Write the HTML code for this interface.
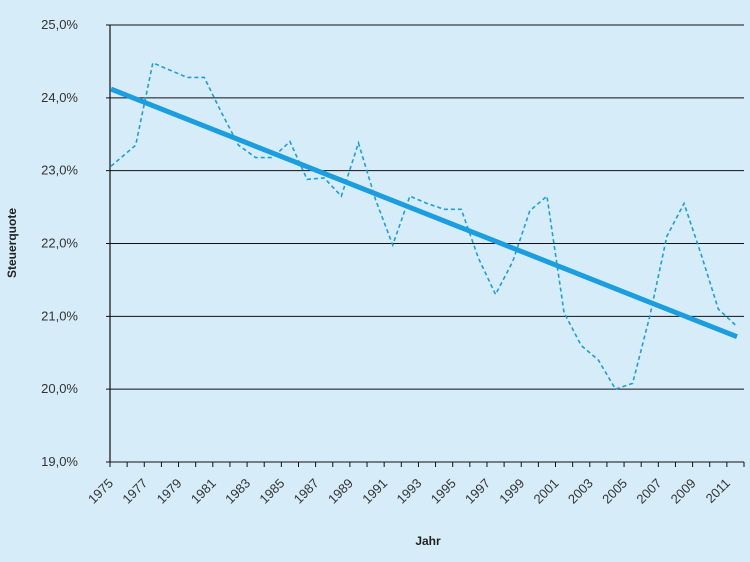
<!DOCTYPE html>
<html><head><meta charset="utf-8"><style>
body{margin:0;background:#d6edf9;}
svg{display:block;font-family:"Liberation Sans",sans-serif;}
</style></head><body>
<svg width="750" height="562">
<rect width="750" height="562" fill="#d6edf9"/>
<g id="grid"></g><g id="axes"></g><g id="series"></g>
<text x="16" y="243" transform="rotate(-90 16 243)" text-anchor="middle" font-size="12" font-weight="bold" fill="#222">Steuerquote</text>
<text x="428" y="545" text-anchor="middle" font-size="12" font-weight="bold" fill="#222">Jahr</text>
</svg>
<script>
const years=[1975,1976,1977,1978,1979,1980,1981,1982,1983,1984,1985,1986,1987,1988,1989,1990,1991,1992,1993,1994,1995,1996,1997,1998,1999,2000,2001,2002,2003,2004,2005,2006,2007,2008,2009,2010,2011];
const quote=[23.15,23.35,24.48,24.38,24.28,24.28,23.8,23.35,23.18,23.18,23.4,22.88,22.9,22.65,23.38,22.6,21.98,22.65,22.55,22.47,22.47,21.8,21.3,21.75,22.45,22.65,21.05,20.6,20.4,20.0,20.08,21.0,22.1,22.55,21.85,21.1,20.88];
const trend=[24.12,20.72];
const yTicks=[19,20,21,22,23,24,25];
const NS="http://www.w3.org/2000/svg";
const X0=110,X1=744,Y0=462,Y1=25;
const step=(X1-X0)/years.length;
const y=v=>Y0-(v-19)/6*(Y0-Y1);
const xp=i=>X0+step*(i+0.5);
function mk(t,a,p){const e=document.createElementNS(NS,t);for(const k in a)e.setAttribute(k,a[k]);p.appendChild(e);return e;}
const grid=document.getElementById('grid'),axes=document.getElementById('axes'),ser=document.getElementById('series');
yTicks.forEach(v=>{
 const l=mk('line',{x1:X0-4,x2:X1,y1:y(v),y2:y(v),stroke:'#111','stroke-width':1},grid);
 
 
 const t=mk('text',{x:78,y:y(v)+4,'text-anchor':'end','font-size':13,fill:'#333'},axes);
 t.textContent=v.toFixed(1).replace('.',',')+'%';
 
 
});
const ax=mk('line',{x1:X0,x2:X0,y1:Y1,y2:Y0,stroke:'#111','stroke-width':1.2},axes);


for(let i=0;i<=years.length;i++){
 const tk=mk('line',{x1:X0+i*step,x2:X0+i*step,y1:Y0,y2:Y0+5,stroke:'#111'},axes);
 
 
}
years.forEach((yr,i)=>{
 if(i%2)return;
 const tx=X0+i*step+4,ty=Y0+22;
 const t=mk('text',{x:tx,y:ty,'text-anchor':'end','font-size':13,fill:'#333',transform:`rotate(-45 ${tx} ${ty})`},axes);
 t.textContent=yr;
 
 
});
const s0=(quote[1]-quote[0])/step;
const startY=y(quote[0])+(xp(0)-X0-1)*(y(quote[1])-y(quote[0]))/step*-1;
const d='M'+(X0+1)+' '+startY+' '+quote.map((v,i)=>'L'+xp(i)+' '+y(v)).join(' ');
const p=mk('path',{d:d,fill:'none',stroke:'#1a9ee0','stroke-width':1.6,'stroke-dasharray':'4 3'},ser);


const tl=mk('line',{x1:X0+1,y1:y(trend[0]),x2:737,y2:y(trend[1]),stroke:'#1a9ee0','stroke-width':5},ser);


</script>
</body></html>
